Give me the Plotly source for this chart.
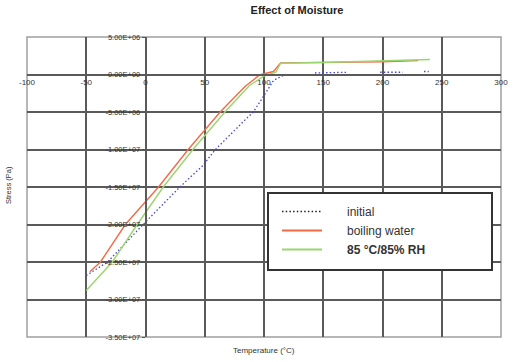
import plotly.graph_objects as go

# ---- data ----
init_x = [-50, -32, -2, 29, 48, 59, 85, 91, 100, 108, 114, 118, None, 143, 171, None, 198, 217, None, 235, 239]
init_y = [-2.68e7, -2.5e7, -2.0e7, -1.5e7, -1.22e7, -1.0e7, -5.9e6, -5.0e6, -2.8e6, -8e5, -3e5, 0,
          None, 2e5, 3e5, None, 3e5, 3e5, None, 4e5, 4e5]

boil_x = [-47, -38, -17, 11, 36, 63, 84, 90, 96, 100, 108, 114, 150, 200, 230]
boil_y = [-2.63e7, -2.5e7, -2.0e7, -1.5e7, -1.0e7, -5.0e6, -1.6e6, -8e5, -1e5, 1e5, 4e5, 1.55e6, 1.6e6, 1.7e6, 1.85e6]

rh_x = [-50, -28, -7, 15, 40, 67, 87.5, 100, 110, 114, 150, 200, 240]
rh_y = [-2.88e7, -2.5e7, -2.0e7, -1.5e7, -1.0e7, -5.0e6, -1.5e6, -2e5, 3e5, 1.5e6, 1.6e6, 1.85e6, 2.0e6]

x_ticks = [-100, -50, 0, 50, 100, 150, 200, 250, 300]
x_tick_labels = ["-100", "-50", "0", "50", "100", "150", "200", "250", "300"]
y_ticks = [5e6, 0, -5e6, -1e7, -1.5e7, -2e7, -2.5e7, -3e7, -3.5e7]
y_tick_labels = ["5.00E+06", "0.00E+00", "-5.00E+06", "-1.00E+07", "-1.50E+07",
                 "-2.00E+07", "-2.50E+07", "-3.00E+07", "-3.50E+07"]

series_names = ["initial", "boiling water", "<b>85 °C/85% RH</b>"]

FONT = "Liberation Sans, Arial, sans-serif"
GRID = "#5a5a5a"
PAD = "\u00a0" * 6

fig = go.Figure()
fig.add_trace(go.Scatter(x=init_x, y=init_y, mode="lines", connectgaps=False,
                         line=dict(color="#4646c8", width=1.3, dash="1.5px,2.2px"), showlegend=False))
fig.add_trace(go.Scatter(x=boil_x, y=boil_y, mode="lines",
                         line=dict(color="#f26a45", width=1.4), showlegend=False))
fig.add_trace(go.Scatter(x=rh_x, y=rh_y, mode="lines",
                         line=dict(color="#9bd56e", width=1.4), showlegend=False))

# legend entries
fig.add_trace(go.Scatter(x=[None], y=[None], mode="lines", name=PAD + series_names[0],
                         line=dict(color="#222222", width=1.5, dash="1.5px,2.2px")))
fig.add_trace(go.Scatter(x=[None], y=[None], mode="lines", name=PAD + series_names[1],
                         line=dict(color="#f26a45", width=2)))
fig.add_trace(go.Scatter(x=[None], y=[None], mode="lines", name=PAD + series_names[2],
                         line=dict(color="#9bd56e", width=2)))

y_min, y_max = -3.5e7, 5e6
x_min, x_max = -100, 300

L, R, T, B = 27, 14, 37, 25
W, H = 515, 362
pw, ph = W - L - R, H - T - B


def px_x(p):
    return (p - L) / pw


def px_y(p):
    return (H - B - p) / ph


fig.update_layout(
    width=W, height=H,
    margin=dict(l=L, r=R, t=T, b=B),
    paper_bgcolor="white", plot_bgcolor="white",
    font=dict(family=FONT, color="#333"),
    title=dict(text="<b>Effect of Moisture</b>", x=297 / W, xref="container", xanchor="center",
               y=1 - 10 / H, yref="container", yanchor="middle",
               font=dict(size=11, family=FONT, color="#222")),
    xaxis=dict(range=[x_min, x_max], tickvals=x_ticks, ticktext=x_tick_labels,
               showgrid=True, gridcolor=GRID, gridwidth=1.5, zeroline=False,
               showline=True, linecolor=GRID, linewidth=1.5, automargin=False,
               anchor="free", position=(0 - y_min) / (y_max - y_min),
               ticks="", tickfont=dict(size=8, color="#333")),
    yaxis=dict(range=[y_min, y_max], tickvals=y_ticks, ticktext=y_tick_labels,
               showgrid=True, gridcolor=GRID, gridwidth=1.5, zeroline=False,
               showline=True, linecolor=GRID, linewidth=1.5, automargin=False,
               anchor="free", position=(0 - x_min) / (x_max - x_min),
               ticks="outside", ticklen=3, tickcolor="#555",
               tickfont=dict(size=7.5, color="#333")),
    legend=dict(x=px_x(277), y=px_y(197), xanchor="left", yanchor="top",
                borderwidth=0, bgcolor="rgba(0,0,0,0)",
                font=dict(size=12, color="#333", family=FONT),
                itemwidth=40, tracegroupgap=0),
    shapes=[
        dict(type="rect", xref="x domain", yref="y domain", x0=0, x1=1, y0=0, y1=1,
             line=dict(color="#a0a0a0", width=1.5), layer="below"),
        dict(type="rect", xref="paper", yref="paper", x0=px_x(268), x1=px_x(492),
             y0=px_y(270), y1=px_y(193), line=dict(color="#333", width=2),
             fillcolor="white", layer="above"),
    ],
    annotations=[
        dict(text="Temperature (°C)", xref="paper", yref="paper", x=px_x(264), y=px_y(350),
             xanchor="center", yanchor="middle", showarrow=False, font=dict(size=8, color="#333")),
        dict(text="Stress (Pa)", xref="paper", yref="paper", x=px_x(8), y=px_y(185),
             xanchor="center", yanchor="middle", textangle=-90, showarrow=False,
             font=dict(size=7.5, color="#333")),
    ],
)

fig.write_html("out.html", config={"displayModeBar": False},
               post_script="document.body.style.margin='0';")
